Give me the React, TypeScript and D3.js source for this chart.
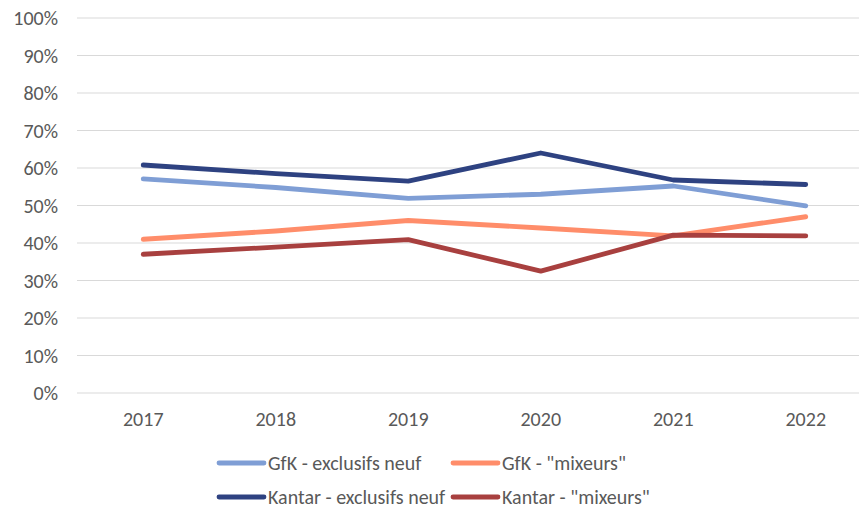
import React from "react";
import * as d3 from "d3";

const years = ["2017", "2018", "2019", "2020", "2021", "2022"];
const gfkExclusifs = [57.1, 54.8, 51.9, 53.0, 55.2, 49.9];
const gfkMixeurs = [41.0, 43.2, 46.0, 44.0, 41.9, 47.0];
const kantarExclusifs = [60.8, 58.5, 56.5, 64.0, 56.8, 55.6];
const kantarMixeurs = [37.0, 38.9, 40.9, 32.5, 42.1, 41.9];
const yTicks = [0, 10, 20, 30, 40, 50, 60, 70, 80, 90, 100];

const series = [
  { name: "GfK - exclusifs neuf", values: gfkExclusifs, color: "#7F9ED5" },
  { name: "GfK - \"mixeurs\"", values: gfkMixeurs, color: "#FF8D6A" },
  { name: "Kantar - exclusifs neuf", values: kantarExclusifs, color: "#2E4281" },
  { name: "Kantar - \"mixeurs\"", values: kantarMixeurs, color: "#A8403F" },
];

const W = 859;
const H = 508;
const FONT = "Carlito, 'Open Sans', 'Noto Sans', sans-serif";
const FS = 20;

export default function App() {
  const x = d3.scaleBand<string>().domain(years).range([77, 872]);
  const y = d3.scaleLinear().domain([0, 100]).range([393, 18]);
  const line = d3
    .line<number>()
    .x((_, i) => (x(years[i]) as number) + x.bandwidth() / 2)
    .y((v) => y(v));

  const legendPos = [
    { lx: 219, ly: 463 },
    { lx: 453, ly: 463 },
    { lx: 219, ly: 497 },
    { lx: 453, ly: 497 },
  ];

  return (
    <svg
      width={W}
      height={H}
      style={{ position: "absolute", left: 0, top: 0, background: "#fff" }}
      fontFamily={FONT}
    >
      <rect width={W} height={H} fill="#fff" />
      {yTicks.map((t) => (
        <g key={t}>
          <line x1={77} x2={W} y1={y(t)} y2={y(t)} stroke="#D9D9D9" strokeWidth={1.2} />
          <text
            x={58}
            y={y(t)}
            dy="0.35em"
            textAnchor="end"
            fontSize={FS}
            fill="#595959"
          >
            {t}%
          </text>
        </g>
      ))}
      {years.map((yr) => (
        <text
          key={yr}
          x={(x(yr) as number) + x.bandwidth() / 2}
          y={419}
          dy="0.35em"
          textAnchor="middle"
          fontSize={FS}
          fill="#595959"
        >
          {yr}
        </text>
      ))}
      {series.map((s) => (
        <path
          key={s.name}
          d={line(s.values) || ""}
          fill="none"
          stroke={s.color}
          strokeWidth={4.8}
          strokeLinecap="round"
          strokeLinejoin="round"
        />
      ))}
      {series.map((s, i) => (
        <g key={s.name}>
          <line
            x1={legendPos[i].lx}
            x2={legendPos[i].lx + 45}
            y1={legendPos[i].ly}
            y2={legendPos[i].ly}
            stroke={s.color}
            strokeWidth={4.8}
            strokeLinecap="round"
          />
          <text
            x={legendPos[i].lx + 49}
            y={legendPos[i].ly}
            dy="0.35em"
            fontSize={FS}
            fill="#595959"
          >
            {s.name}
          </text>
        </g>
      ))}
    </svg>
  );
}
